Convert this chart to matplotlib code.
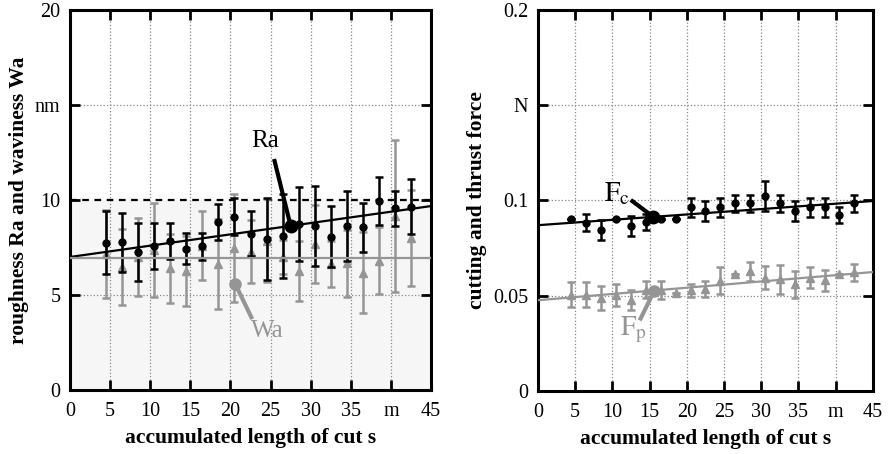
import numpy as np
import matplotlib
matplotlib.use('Agg')
import matplotlib.pyplot as plt

plt.rcParams['font.family'] = ['Liberation Serif', 'DejaVu Serif']
plt.rcParams['mathtext.fontset'] = 'stix'

# accumulated length of cut (m)
s = [4.5 + 2 * i for i in range(20)]

# roughness Ra / waviness Wa (nm) with error half-widths
ra = [7.75, 7.77, 7.24, 7.58, 7.84, 7.44, 7.56, 8.82, 9.12, 8.23,
      7.95, 8.10, 8.72, 8.63, 8.07, 8.63, 8.56, 9.95, 9.56, 9.65]
ra_err = [1.67, 1.57, 1.53, 1.19, 0.95, 0.83, 0.72, 0.95, 0.98, 1.20,
          2.15, 2.20, 1.95, 2.12, 1.60, 1.85, 1.28, 1.25, 0.93, 1.45]
wa = [7.15, 6.49, 7.00, 7.37, 6.40, 6.26, 7.60, 6.63, 7.46, 7.28,
      7.86, 7.02, 6.26, 7.68, 6.63, 6.67, 6.18, 6.81, 9.16, 7.98]
wa_err = [2.30, 2.00, 2.05, 2.45, 1.80, 1.82, 1.80, 2.37, 2.85, 1.65,
          2.20, 0.90, 1.58, 2.05, 1.20, 1.75, 2.14, 1.75, 4.00, 2.52]

# cutting force Fc / thrust force Fp (N)
fc = [0.0901, 0.0884, 0.0844, 0.0901, 0.0865, 0.0888, 0.0901, 0.0901, 0.0963, 0.0944,
      0.0963, 0.0984, 0.0984, 0.1022, 0.0984, 0.0943, 0.0963, 0.0963, 0.0922, 0.0984]
fc_err = [0, 0.0044, 0.0052, 0, 0.0054, 0.0041, 0, 0, 0.0052, 0.0053,
          0.0052, 0.0044, 0.0045, 0.0080, 0.0044, 0.0053, 0.0052, 0.0052, 0.0041, 0.0044]
fp = [0.0506, 0.0506, 0.0488, 0.0502, 0.0476, 0.0532, 0.0529, 0.0514, 0.0529, 0.0537,
      0.0578, 0.0616, 0.0628, 0.0595, 0.0585, 0.0560, 0.0595, 0.0581, 0.0616, 0.0622]
fp_err = [0.0068, 0.0068, 0.0061, 0.0058, 0.0053, 0.0043, 0.0046, 0, 0.0034, 0.0042,
          0.0071, 0, 0.0051, 0.0062, 0.0077, 0.0070, 0.0054, 0.0055, 0, 0.0044]

# regression lines (value at s=0 and s=45)
ra_fit = [7.0, 9.68]
wa_fit = [6.93, 6.93]
fc_fit = [0.087, 0.0997]
fp_fit = [0.0476, 0.0624]

x_ticks = [0, 5, 10, 15, 20, 25, 30, 35, 40, 45]
x_labels = ['0', '5', '10', '15', '20', '25', '30', '35', 'm', '45']
y1_ticks = [0, 5, 10, 15, 20]
y1_labels = ['0', '5', '10', 'nm', '20']
y2_ticks = [0, 0.05, 0.1, 0.15, 0.2]
y2_labels = ['0', '0.05', '0.1', 'N', '0.2']

GRAY = '#959595'


def style_axes(ax, yticks, ylabels, ymax):
    ax.set_xlim(0, 45)
    ax.set_ylim(0, ymax)
    ax.set_xticks(x_ticks)
    ax.set_xticklabels(x_labels)
    ax.set_yticks(yticks)
    ax.set_yticklabels(ylabels)
    ax.tick_params(direction='in', length=7, width=2, top=True, right=True,
                   labelsize=14.5, pad=7)
    ax.tick_params(axis='x', pad=9)
    for sp in ax.spines.values():
        sp.set_linewidth(2.2)
    for xv in x_ticks[1:-1]:
        ax.axvline(xv, color='#888888', ls=':', lw=0.9, zorder=1)
    ax.set_xlabel('accumulated length of cut s', fontsize=15.5, fontweight='bold',
                  labelpad=5)


fig = plt.figure(figsize=(8.92, 4.54), dpi=100)
ax1 = fig.add_axes([0.0785, 0.141, 0.4047, 0.837])
ax2 = fig.add_axes([0.603, 0.139, 0.3756, 0.839])

# ---- left: roughness / waviness
style_axes(ax1, y1_ticks, y1_labels, 20)
ax1.axhspan(0, 10, color='#f6f6f6', zorder=0)
for yv in [5, 15]:
    ax1.axhline(yv, color='#888888', ls=':', lw=0.9, zorder=1)
ax1.axhline(10, color='black', ls=(0, (3, 2.5)), lw=1.6, zorder=2)
ax1.errorbar(s, wa, yerr=wa_err, fmt='^', color=GRAY, ms=6, lw=1.8,
             capsize=3, capthick=1.8, zorder=3)
ax1.errorbar(s, ra, yerr=ra_err, fmt='o', color='black', ms=5, lw=1.8,
             capsize=3, capthick=1.8, zorder=4)
ax1.plot([0, 45], ra_fit, color='black', lw=1.6, zorder=5)
ax1.plot([0, 45], wa_fit, color=GRAY, lw=1.6, zorder=5)
ax1.set_ylabel('roughness Ra and waviness Wa', fontsize=15.5, fontweight='bold',
               labelpad=4)

ax1.plot([25.5, 27.5], [12.05, 8.64], color='black', lw=3, zorder=6)
ax1.plot([27.5], [8.64], 'o', color='black', ms=9, zorder=6)
ax1.text(24.3, 12.5, 'Ra', fontsize=18, ha='center', va='bottom')
ax1.plot([20.6, 22.6], [5.58, 3.83], color=GRAY, lw=3, zorder=6)
ax1.plot([20.6], [5.58], 'o', color=GRAY, ms=8, zorder=6)
ax1.text(24.6, 3.1, 'Wa', fontsize=18, ha='center', va='center', color=GRAY)

# ---- right: forces
style_axes(ax2, y2_ticks, y2_labels, 0.2)
for yv in [0.05, 0.1, 0.15]:
    ax2.axhline(yv, color='#888888', ls=':', lw=0.9, zorder=1)
ax2.errorbar(s, fp, yerr=fp_err, fmt='^', color=GRAY, ms=6, lw=1.8,
             capsize=3, capthick=1.8, zorder=3)
ax2.errorbar(s, fc, yerr=fc_err, fmt='o', color='black', ms=5, lw=1.8,
             capsize=3, capthick=1.8, zorder=4)
ax2.plot([0, 45], fc_fit, color='black', lw=1.6, zorder=5)
ax2.plot([0, 45], fp_fit, color=GRAY, lw=1.6, zorder=5)
ax2.set_ylabel('cutting and thrust force', fontsize=15.5, fontweight='bold',
               labelpad=4)

ax2.plot([12.7, 15.5], [0.0996, 0.0914], color='black', lw=3, zorder=6)
ax2.plot([15.5], [0.0914], 'o', color='black', ms=9, zorder=6)
ax2.text(10.6, 0.1035, r'$\mathrm{F}_{\mathrm{c}}$', fontsize=20,
         ha='center', va='center')
ax2.plot([13.8, 15.6], [0.038, 0.0523], color=GRAY, lw=3, zorder=6)
ax2.plot([15.6], [0.0523], 'o', color=GRAY, ms=8, zorder=6)
ax2.text(12.8, 0.032, r'$\mathrm{F}_{\mathrm{p}}$', fontsize=20,
         ha='center', va='center', color=GRAY)

fig.savefig('out.png', dpi=100)
